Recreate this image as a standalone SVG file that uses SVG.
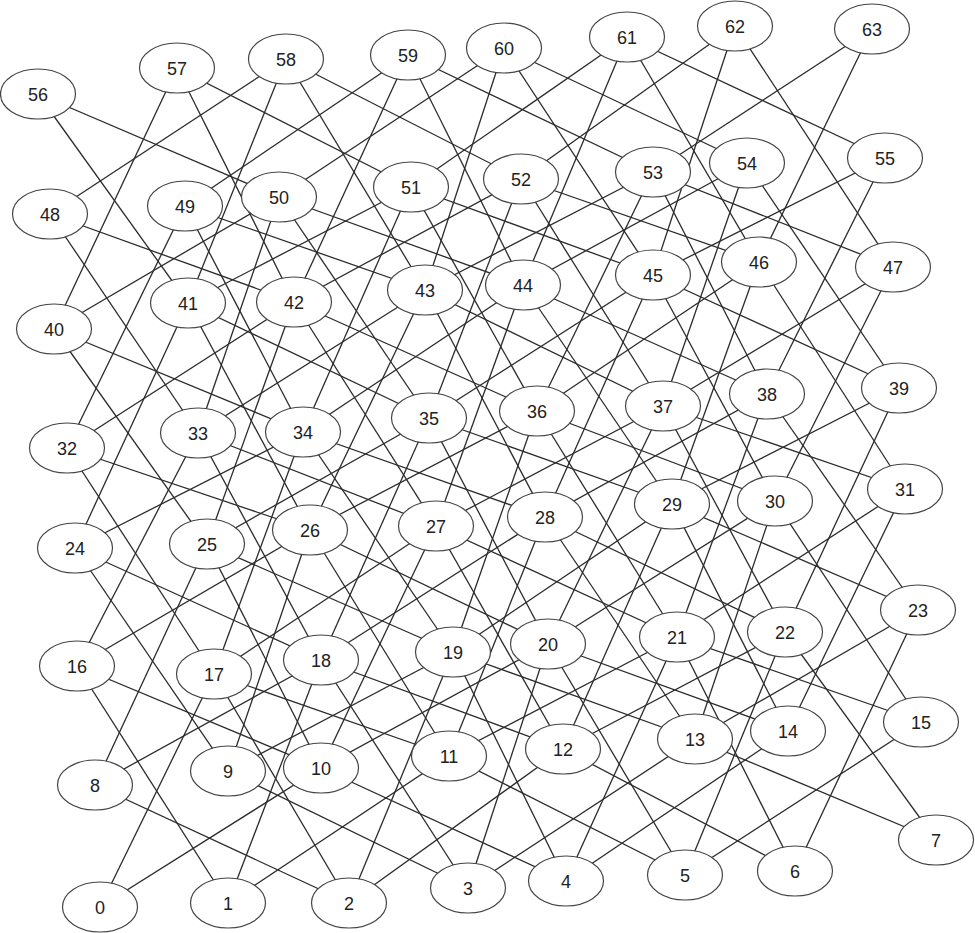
<svg xmlns="http://www.w3.org/2000/svg" width="975" height="933" viewBox="0 0 975 933">
<style>
.e line{stroke:#2b2b2b;stroke-width:1.3;fill:none}
.n ellipse{fill:#fff;stroke:#444;stroke-width:1.2}
.n text{font-family:"Liberation Sans","DejaVu Sans",sans-serif;font-size:18px;fill:#222;text-anchor:middle}
</style>
<rect width="975" height="933" fill="#fff"/>
<g id="edges" class="e">
<line x1="100" y1="907" x2="321" y2="768"/>
<line x1="100" y1="907" x2="214" y2="674"/>
<line x1="228" y1="903" x2="449" y2="756"/>
<line x1="228" y1="903" x2="77" y2="666"/>
<line x1="228" y1="903" x2="321" y2="660"/>
<line x1="349" y1="903" x2="95" y2="785"/>
<line x1="349" y1="903" x2="563" y2="749"/>
<line x1="349" y1="903" x2="214" y2="674"/>
<line x1="349" y1="903" x2="453" y2="652"/>
<line x1="468" y1="888" x2="228" y2="771"/>
<line x1="468" y1="888" x2="695" y2="739"/>
<line x1="468" y1="888" x2="321" y2="660"/>
<line x1="468" y1="888" x2="548" y2="644"/>
<line x1="566" y1="881" x2="321" y2="768"/>
<line x1="566" y1="881" x2="788" y2="731"/>
<line x1="566" y1="881" x2="453" y2="652"/>
<line x1="566" y1="881" x2="677" y2="637"/>
<line x1="685" y1="875" x2="449" y2="756"/>
<line x1="685" y1="875" x2="921" y2="722"/>
<line x1="685" y1="875" x2="548" y2="644"/>
<line x1="685" y1="875" x2="785" y2="632"/>
<line x1="795" y1="871" x2="563" y2="749"/>
<line x1="795" y1="871" x2="677" y2="637"/>
<line x1="795" y1="871" x2="918" y2="610"/>
<line x1="936" y1="840" x2="695" y2="739"/>
<line x1="936" y1="840" x2="785" y2="632"/>
<line x1="95" y1="785" x2="321" y2="660"/>
<line x1="95" y1="785" x2="207" y2="544"/>
<line x1="228" y1="771" x2="453" y2="652"/>
<line x1="228" y1="771" x2="75" y2="548"/>
<line x1="228" y1="771" x2="310" y2="530"/>
<line x1="321" y1="768" x2="77" y2="666"/>
<line x1="321" y1="768" x2="548" y2="644"/>
<line x1="321" y1="768" x2="207" y2="544"/>
<line x1="321" y1="768" x2="436" y2="526"/>
<line x1="449" y1="756" x2="214" y2="674"/>
<line x1="449" y1="756" x2="677" y2="637"/>
<line x1="449" y1="756" x2="310" y2="530"/>
<line x1="449" y1="756" x2="545" y2="517"/>
<line x1="563" y1="749" x2="321" y2="660"/>
<line x1="563" y1="749" x2="785" y2="632"/>
<line x1="563" y1="749" x2="436" y2="526"/>
<line x1="563" y1="749" x2="672" y2="504"/>
<line x1="695" y1="739" x2="453" y2="652"/>
<line x1="695" y1="739" x2="918" y2="610"/>
<line x1="695" y1="739" x2="545" y2="517"/>
<line x1="695" y1="739" x2="775" y2="501"/>
<line x1="788" y1="731" x2="548" y2="644"/>
<line x1="788" y1="731" x2="672" y2="504"/>
<line x1="788" y1="731" x2="905" y2="489"/>
<line x1="921" y1="722" x2="677" y2="637"/>
<line x1="921" y1="722" x2="775" y2="501"/>
<line x1="77" y1="666" x2="310" y2="530"/>
<line x1="77" y1="666" x2="198" y2="433"/>
<line x1="214" y1="674" x2="436" y2="526"/>
<line x1="214" y1="674" x2="67" y2="448"/>
<line x1="214" y1="674" x2="303" y2="432"/>
<line x1="321" y1="660" x2="75" y2="548"/>
<line x1="321" y1="660" x2="545" y2="517"/>
<line x1="321" y1="660" x2="198" y2="433"/>
<line x1="321" y1="660" x2="429" y2="418"/>
<line x1="453" y1="652" x2="207" y2="544"/>
<line x1="453" y1="652" x2="672" y2="504"/>
<line x1="453" y1="652" x2="303" y2="432"/>
<line x1="453" y1="652" x2="537" y2="411"/>
<line x1="548" y1="644" x2="310" y2="530"/>
<line x1="548" y1="644" x2="775" y2="501"/>
<line x1="548" y1="644" x2="429" y2="418"/>
<line x1="548" y1="644" x2="663" y2="406"/>
<line x1="677" y1="637" x2="436" y2="526"/>
<line x1="677" y1="637" x2="905" y2="489"/>
<line x1="677" y1="637" x2="537" y2="411"/>
<line x1="677" y1="637" x2="767" y2="394"/>
<line x1="785" y1="632" x2="545" y2="517"/>
<line x1="785" y1="632" x2="663" y2="406"/>
<line x1="785" y1="632" x2="899" y2="388"/>
<line x1="918" y1="610" x2="672" y2="504"/>
<line x1="918" y1="610" x2="767" y2="394"/>
<line x1="75" y1="548" x2="303" y2="432"/>
<line x1="75" y1="548" x2="188" y2="303"/>
<line x1="207" y1="544" x2="429" y2="418"/>
<line x1="207" y1="544" x2="54" y2="329"/>
<line x1="207" y1="544" x2="294" y2="302"/>
<line x1="310" y1="530" x2="67" y2="448"/>
<line x1="310" y1="530" x2="537" y2="411"/>
<line x1="310" y1="530" x2="188" y2="303"/>
<line x1="310" y1="530" x2="425" y2="290"/>
<line x1="436" y1="526" x2="198" y2="433"/>
<line x1="436" y1="526" x2="663" y2="406"/>
<line x1="436" y1="526" x2="294" y2="302"/>
<line x1="436" y1="526" x2="523" y2="285"/>
<line x1="545" y1="517" x2="303" y2="432"/>
<line x1="545" y1="517" x2="767" y2="394"/>
<line x1="545" y1="517" x2="425" y2="290"/>
<line x1="545" y1="517" x2="653" y2="275"/>
<line x1="672" y1="504" x2="429" y2="418"/>
<line x1="672" y1="504" x2="899" y2="388"/>
<line x1="672" y1="504" x2="523" y2="285"/>
<line x1="672" y1="504" x2="759" y2="262"/>
<line x1="775" y1="501" x2="537" y2="411"/>
<line x1="775" y1="501" x2="653" y2="275"/>
<line x1="775" y1="501" x2="893" y2="267"/>
<line x1="905" y1="489" x2="663" y2="406"/>
<line x1="905" y1="489" x2="759" y2="262"/>
<line x1="67" y1="448" x2="294" y2="302"/>
<line x1="67" y1="448" x2="185" y2="206"/>
<line x1="198" y1="433" x2="425" y2="290"/>
<line x1="198" y1="433" x2="50" y2="214"/>
<line x1="198" y1="433" x2="279" y2="197"/>
<line x1="303" y1="432" x2="54" y2="329"/>
<line x1="303" y1="432" x2="523" y2="285"/>
<line x1="303" y1="432" x2="185" y2="206"/>
<line x1="303" y1="432" x2="411" y2="187"/>
<line x1="429" y1="418" x2="188" y2="303"/>
<line x1="429" y1="418" x2="653" y2="275"/>
<line x1="429" y1="418" x2="279" y2="197"/>
<line x1="429" y1="418" x2="521" y2="179"/>
<line x1="537" y1="411" x2="294" y2="302"/>
<line x1="537" y1="411" x2="759" y2="262"/>
<line x1="537" y1="411" x2="411" y2="187"/>
<line x1="537" y1="411" x2="653" y2="172"/>
<line x1="663" y1="406" x2="425" y2="290"/>
<line x1="663" y1="406" x2="893" y2="267"/>
<line x1="663" y1="406" x2="521" y2="179"/>
<line x1="663" y1="406" x2="747" y2="163"/>
<line x1="767" y1="394" x2="523" y2="285"/>
<line x1="767" y1="394" x2="653" y2="172"/>
<line x1="767" y1="394" x2="885" y2="158"/>
<line x1="899" y1="388" x2="653" y2="275"/>
<line x1="899" y1="388" x2="747" y2="163"/>
<line x1="54" y1="329" x2="279" y2="197"/>
<line x1="54" y1="329" x2="177" y2="68"/>
<line x1="188" y1="303" x2="411" y2="187"/>
<line x1="188" y1="303" x2="38" y2="94"/>
<line x1="188" y1="303" x2="286" y2="59"/>
<line x1="294" y1="302" x2="50" y2="214"/>
<line x1="294" y1="302" x2="521" y2="179"/>
<line x1="294" y1="302" x2="177" y2="68"/>
<line x1="294" y1="302" x2="408" y2="55"/>
<line x1="425" y1="290" x2="185" y2="206"/>
<line x1="425" y1="290" x2="653" y2="172"/>
<line x1="425" y1="290" x2="286" y2="59"/>
<line x1="425" y1="290" x2="504" y2="48"/>
<line x1="523" y1="285" x2="279" y2="197"/>
<line x1="523" y1="285" x2="747" y2="163"/>
<line x1="523" y1="285" x2="408" y2="55"/>
<line x1="523" y1="285" x2="627" y2="37"/>
<line x1="653" y1="275" x2="411" y2="187"/>
<line x1="653" y1="275" x2="885" y2="158"/>
<line x1="653" y1="275" x2="504" y2="48"/>
<line x1="653" y1="275" x2="735" y2="26"/>
<line x1="759" y1="262" x2="521" y2="179"/>
<line x1="759" y1="262" x2="627" y2="37"/>
<line x1="759" y1="262" x2="872" y2="29"/>
<line x1="893" y1="267" x2="653" y2="172"/>
<line x1="893" y1="267" x2="735" y2="26"/>
<line x1="50" y1="214" x2="286" y2="59"/>
<line x1="185" y1="206" x2="408" y2="55"/>
<line x1="279" y1="197" x2="38" y2="94"/>
<line x1="279" y1="197" x2="504" y2="48"/>
<line x1="411" y1="187" x2="177" y2="68"/>
<line x1="411" y1="187" x2="627" y2="37"/>
<line x1="521" y1="179" x2="286" y2="59"/>
<line x1="521" y1="179" x2="735" y2="26"/>
<line x1="653" y1="172" x2="408" y2="55"/>
<line x1="653" y1="172" x2="872" y2="29"/>
<line x1="747" y1="163" x2="504" y2="48"/>
<line x1="885" y1="158" x2="627" y2="37"/>
</g>
<g class="n">
<g id="n0"><ellipse cx="100" cy="907" rx="37.5" ry="25"/><text x="100" y="913.5">0</text></g>
<g id="n1"><ellipse cx="228" cy="903" rx="37.5" ry="25"/><text x="228" y="909.5">1</text></g>
<g id="n2"><ellipse cx="349" cy="903" rx="37.5" ry="25"/><text x="349" y="909.5">2</text></g>
<g id="n3"><ellipse cx="468" cy="888" rx="37.5" ry="25"/><text x="468" y="894.5">3</text></g>
<g id="n4"><ellipse cx="566" cy="881" rx="37.5" ry="25"/><text x="566" y="887.5">4</text></g>
<g id="n5"><ellipse cx="685" cy="875" rx="37.5" ry="25"/><text x="685" y="881.5">5</text></g>
<g id="n6"><ellipse cx="795" cy="871" rx="37.5" ry="25"/><text x="795" y="877.5">6</text></g>
<g id="n7"><ellipse cx="936" cy="840" rx="37.5" ry="25"/><text x="936" y="846.5">7</text></g>
<g id="n8"><ellipse cx="95" cy="785" rx="37.5" ry="25"/><text x="95" y="791.5">8</text></g>
<g id="n9"><ellipse cx="228" cy="771" rx="37.5" ry="25"/><text x="228" y="777.5">9</text></g>
<g id="n10"><ellipse cx="321" cy="768" rx="37.5" ry="25"/><text x="321" y="774.5">10</text></g>
<g id="n11"><ellipse cx="449" cy="756" rx="37.5" ry="25"/><text x="449" y="762.5">11</text></g>
<g id="n12"><ellipse cx="563" cy="749" rx="37.5" ry="25"/><text x="563" y="755.5">12</text></g>
<g id="n13"><ellipse cx="695" cy="739" rx="37.5" ry="25"/><text x="695" y="745.5">13</text></g>
<g id="n14"><ellipse cx="788" cy="731" rx="37.5" ry="25"/><text x="788" y="737.5">14</text></g>
<g id="n15"><ellipse cx="921" cy="722" rx="37.5" ry="25"/><text x="921" y="728.5">15</text></g>
<g id="n16"><ellipse cx="77" cy="666" rx="37.5" ry="25"/><text x="77" y="672.5">16</text></g>
<g id="n17"><ellipse cx="214" cy="674" rx="37.5" ry="25"/><text x="214" y="680.5">17</text></g>
<g id="n18"><ellipse cx="321" cy="660" rx="37.5" ry="25"/><text x="321" y="666.5">18</text></g>
<g id="n19"><ellipse cx="453" cy="652" rx="37.5" ry="25"/><text x="453" y="658.5">19</text></g>
<g id="n20"><ellipse cx="548" cy="644" rx="37.5" ry="25"/><text x="548" y="650.5">20</text></g>
<g id="n21"><ellipse cx="677" cy="637" rx="37.5" ry="25"/><text x="677" y="643.5">21</text></g>
<g id="n22"><ellipse cx="785" cy="632" rx="37.5" ry="25"/><text x="785" y="638.5">22</text></g>
<g id="n23"><ellipse cx="918" cy="610" rx="37.5" ry="25"/><text x="918" y="616.5">23</text></g>
<g id="n24"><ellipse cx="75" cy="548" rx="37.5" ry="25"/><text x="75" y="554.5">24</text></g>
<g id="n25"><ellipse cx="207" cy="544" rx="37.5" ry="25"/><text x="207" y="550.5">25</text></g>
<g id="n26"><ellipse cx="310" cy="530" rx="37.5" ry="25"/><text x="310" y="536.5">26</text></g>
<g id="n27"><ellipse cx="436" cy="526" rx="37.5" ry="25"/><text x="436" y="532.5">27</text></g>
<g id="n28"><ellipse cx="545" cy="517" rx="37.5" ry="25"/><text x="545" y="523.5">28</text></g>
<g id="n29"><ellipse cx="672" cy="504" rx="37.5" ry="25"/><text x="672" y="510.5">29</text></g>
<g id="n30"><ellipse cx="775" cy="501" rx="37.5" ry="25"/><text x="775" y="507.5">30</text></g>
<g id="n31"><ellipse cx="905" cy="489" rx="37.5" ry="25"/><text x="905" y="495.5">31</text></g>
<g id="n32"><ellipse cx="67" cy="448" rx="37.5" ry="25"/><text x="67" y="454.5">32</text></g>
<g id="n33"><ellipse cx="198" cy="433" rx="37.5" ry="25"/><text x="198" y="439.5">33</text></g>
<g id="n34"><ellipse cx="303" cy="432" rx="37.5" ry="25"/><text x="303" y="438.5">34</text></g>
<g id="n35"><ellipse cx="429" cy="418" rx="37.5" ry="25"/><text x="429" y="424.5">35</text></g>
<g id="n36"><ellipse cx="537" cy="411" rx="37.5" ry="25"/><text x="537" y="417.5">36</text></g>
<g id="n37"><ellipse cx="663" cy="406" rx="37.5" ry="25"/><text x="663" y="412.5">37</text></g>
<g id="n38"><ellipse cx="767" cy="394" rx="37.5" ry="25"/><text x="767" y="400.5">38</text></g>
<g id="n39"><ellipse cx="899" cy="388" rx="37.5" ry="25"/><text x="899" y="394.5">39</text></g>
<g id="n40"><ellipse cx="54" cy="329" rx="37.5" ry="25"/><text x="54" y="335.5">40</text></g>
<g id="n41"><ellipse cx="188" cy="303" rx="37.5" ry="25"/><text x="188" y="309.5">41</text></g>
<g id="n42"><ellipse cx="294" cy="302" rx="37.5" ry="25"/><text x="294" y="308.5">42</text></g>
<g id="n43"><ellipse cx="425" cy="290" rx="37.5" ry="25"/><text x="425" y="296.5">43</text></g>
<g id="n44"><ellipse cx="523" cy="285" rx="37.5" ry="25"/><text x="523" y="291.5">44</text></g>
<g id="n45"><ellipse cx="653" cy="275" rx="37.5" ry="25"/><text x="653" y="281.5">45</text></g>
<g id="n46"><ellipse cx="759" cy="262" rx="37.5" ry="25"/><text x="759" y="268.5">46</text></g>
<g id="n47"><ellipse cx="893" cy="267" rx="37.5" ry="25"/><text x="893" y="273.5">47</text></g>
<g id="n48"><ellipse cx="50" cy="214" rx="37.5" ry="25"/><text x="50" y="220.5">48</text></g>
<g id="n49"><ellipse cx="185" cy="206" rx="37.5" ry="25"/><text x="185" y="212.5">49</text></g>
<g id="n50"><ellipse cx="279" cy="197" rx="37.5" ry="25"/><text x="279" y="203.5">50</text></g>
<g id="n51"><ellipse cx="411" cy="187" rx="37.5" ry="25"/><text x="411" y="193.5">51</text></g>
<g id="n52"><ellipse cx="521" cy="179" rx="37.5" ry="25"/><text x="521" y="185.5">52</text></g>
<g id="n53"><ellipse cx="653" cy="172" rx="37.5" ry="25"/><text x="653" y="178.5">53</text></g>
<g id="n54"><ellipse cx="747" cy="163" rx="37.5" ry="25"/><text x="747" y="169.5">54</text></g>
<g id="n55"><ellipse cx="885" cy="158" rx="37.5" ry="25"/><text x="885" y="164.5">55</text></g>
<g id="n56"><ellipse cx="38" cy="94" rx="37.5" ry="25"/><text x="38" y="100.5">56</text></g>
<g id="n57"><ellipse cx="177" cy="68" rx="37.5" ry="25"/><text x="177" y="74.5">57</text></g>
<g id="n58"><ellipse cx="286" cy="59" rx="37.5" ry="25"/><text x="286" y="65.5">58</text></g>
<g id="n59"><ellipse cx="408" cy="55" rx="37.5" ry="25"/><text x="408" y="61.5">59</text></g>
<g id="n60"><ellipse cx="504" cy="48" rx="37.5" ry="25"/><text x="504" y="54.5">60</text></g>
<g id="n61"><ellipse cx="627" cy="37" rx="37.5" ry="25"/><text x="627" y="43.5">61</text></g>
<g id="n62"><ellipse cx="735" cy="26" rx="37.5" ry="25"/><text x="735" y="32.5">62</text></g>
<g id="n63"><ellipse cx="872" cy="29" rx="37.5" ry="25"/><text x="872" y="35.5">63</text></g>
</g>
</svg>
